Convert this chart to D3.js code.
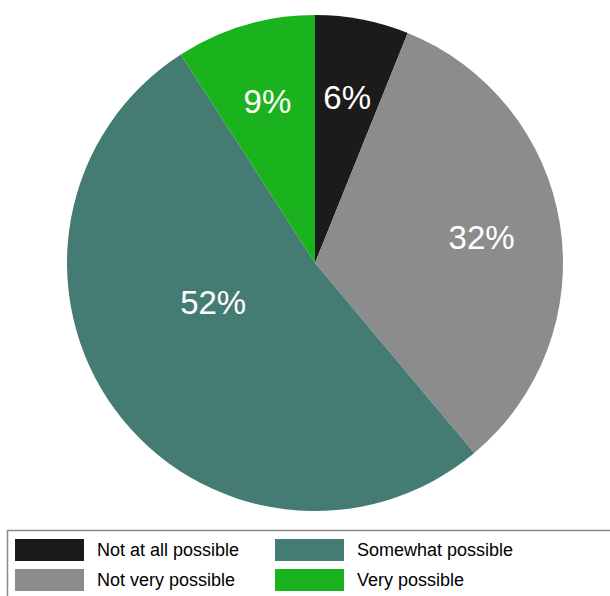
<!DOCTYPE html>
<html><head><meta charset="utf-8">
<script src="https://cdn.jsdelivr.net/npm/d3@7"></script>
<style>body{margin:0;background:#fff}svg{display:block}</style>
</head><body>
<svg id="chart" width="610" height="596"></svg>
<script>
const categories = ["Not at all possible", "Not very possible", "Somewhat possible", "Very possible"];
const values = [6.1, 32.8, 52.0, 9.1];
const labels = ["6%", "32%", "52%", "9%"];
const colors = ["#1b1b1b", "#8c8c8c", "#447c73", "#1ab31d"];

const svg = d3.select("#chart");
const cx = 315, cy = 263, R = 248;
const total = d3.sum(values);
const pie = d3.pie().sort(null).value(d => d)(values);
const arc = d3.arc().innerRadius(0).outerRadius(R);
const g = svg.append("g").attr("transform", `translate(${cx},${cy})`);
g.selectAll("path").data(pie).join("path")
  .attr("d", arc).attr("fill", (d, i) => colors[i]);

function labelPos(d) {
  let a = (d.startAngle + d.endAngle) / 2;
  let r = R * 0.68;
  if (d.value / total > 0.5) { r = R * 0.44; a += 0.267; }
  return [Math.sin(a) * r, -Math.cos(a) * r];
}
g.selectAll("text").data(pie).join("text")
  .attr("transform", d => `translate(${labelPos(d)})`)
  .attr("text-anchor", "middle").attr("dy", "0.36em")
  .attr("fill", "#fff").attr("font-family", "Liberation Sans, Arial, sans-serif")
  .attr("font-size", 33)
  .text((d, i) => labels[i]);

// legend
const lg = svg.append("g");
lg.append("rect").attr("x", 7.5).attr("y", 530.5).attr("width", 612).attr("height", 80)
  .attr("fill", "#fff").attr("stroke", "#8a8a8a").attr("stroke-width", 1.5);
const pos = [[15, 539], [15, 569], [275, 539], [275, 569]];
categories.forEach((c, i) => {
  const [x, y] = pos[i];
  lg.append("rect").attr("x", x).attr("y", y).attr("width", 69).attr("height", 22).attr("fill", colors[i]);
  lg.append("text").attr("x", x + 82).attr("y", y + 11).attr("dy", "0.36em")
    .attr("font-family", "Liberation Sans, Arial, sans-serif").attr("font-size", 18)
    .attr("fill", "#000").text(c);
});
</script>
</body></html>
